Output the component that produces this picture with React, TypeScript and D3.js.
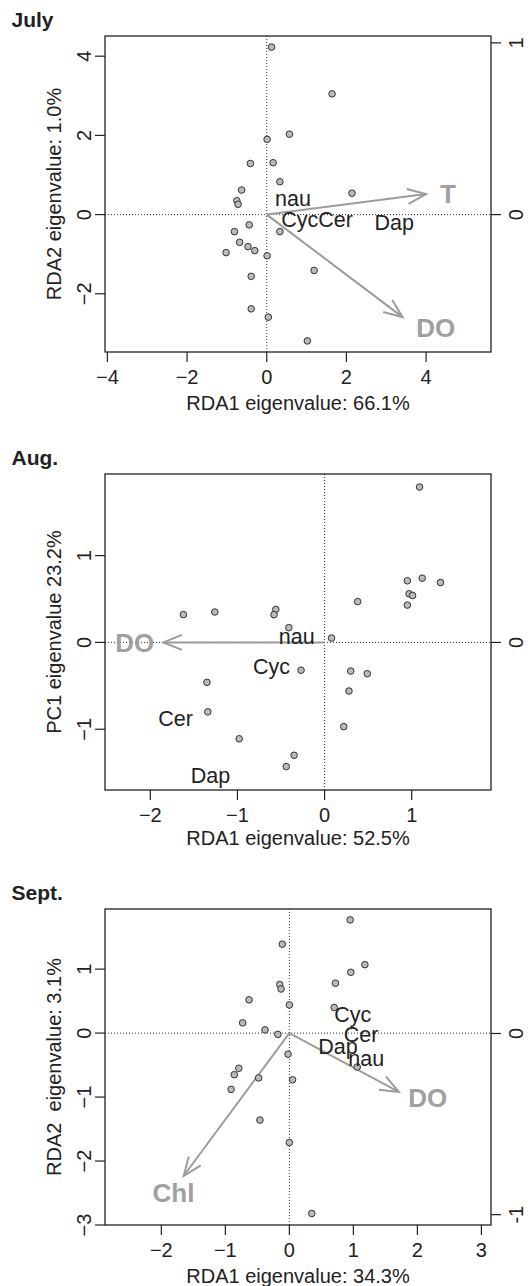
import React, { useEffect, useRef } from 'react';
import * as d3 from 'd3';

// July (RDA)
const julySiteX = [0.12, 1.64, 0.57, 0.01, -0.41, 0.16, 0.33, -0.63, 2.14, -0.75, -0.72, -0.44, -0.81, 0.33, -0.68, -0.47, -0.30, -1.02, 0.01, 1.19, -0.39, -0.39, 0.04, 1.02];
const julySiteY = [4.23, 3.05, 2.03, 1.90, 1.29, 1.31, 0.83, 0.62, 0.54, 0.35, 0.26, -0.26, -0.43, -0.43, -0.70, -0.81, -0.91, -0.96, -1.04, -1.41, -1.56, -2.38, -2.59, -3.19];
const julySpecies = ['nau', 'Cyc', 'Cer', 'Dap'];
const julySpeciesX = [0.66, 0.83, 1.73, 3.20];
const julySpeciesY = [0.40, -0.12, -0.12, -0.20];
const julyEnv = ['T', 'DO'];
const julyEnvX = [4.0, 3.41];
const julyEnvY = [0.52, -2.59];
const julyEnvLabelX = [4.55, 4.24];
const julyEnvLabelY = [0.52, -2.85];
const julyXTicks = [-4, -2, 0, 2, 4];
const julyYTicks = [-2, 0, 2, 4];
const julyRightTicks = [0, 1];

// Aug.
const augSiteX = [1.09, 0.95, 1.12, 1.33, 0.97, 1.01, 0.95, 0.38, -1.62, -1.26, -0.56, -0.58, -0.41, 0.08, -0.27, 0.30, 0.49, -1.35, 0.28, -1.34, 0.22, -0.98, -0.35, -0.44];
const augSiteY = [1.79, 0.71, 0.74, 0.69, 0.56, 0.54, 0.43, 0.47, 0.32, 0.35, 0.38, 0.32, 0.17, 0.05, -0.32, -0.33, -0.36, -0.46, -0.56, -0.80, -0.97, -1.11, -1.30, -1.43];
const augSpecies = ['nau', 'Cyc', 'Cer', 'Dap'];
const augSpeciesX = [-0.32, -0.61, -1.71, -1.31];
const augSpeciesY = [0.07, -0.28, -0.87, -1.53];
const augEnv = ['DO'];
const augEnvX = [-1.85];
const augEnvY = [0];
const augEnvLabelX = [-2.18];
const augEnvLabelY = [0];
const augXTicks = [-2, -1, 0, 1];
const augYTicks = [-1, 0, 1];
const augRightTicks = [0];

// Sept.
const septSiteX = [0.95, -0.11, 1.18, 0.96, 0.72, -0.15, -0.13, -0.63, 0.0, 0.70, -0.73, -0.38, -0.18, -0.02, -0.79, -0.86, -0.48, 0.05, 1.06, -0.91, -0.46, 0.0, 0.35];
const septSiteY = [1.77, 1.39, 1.07, 0.95, 0.78, 0.76, 0.69, 0.52, 0.44, 0.40, 0.16, 0.05, -0.02, -0.33, -0.55, -0.65, -0.70, -0.73, -0.53, -0.88, -1.36, -1.71, -2.82];
const septSpecies = ['Cyc', 'Cer', 'Dap', 'nau'];
const septSpeciesX = [0.99, 1.12, 0.76, 1.20];
const septSpeciesY = [0.30, -0.02, -0.20, -0.40];
const septEnv = ['DO', 'Chl'];
const septEnvX = [1.71, -1.65];
const septEnvY = [-0.92, -2.23];
const septEnvLabelX = [2.16, -1.81];
const septEnvLabelY = [-1.01, -2.50];
const septXTicks = [-2, -1, 0, 1, 2, 3];
const septYTicks = [-3, -2, -1, 0, 1];
const septRightTicks = [0, -1];

const panels = [
  {
    title: 'July', top: 36, xDomain: [-4.06, 5.63], yDomain: [-3.47, 4.51], rDomain: [-0.80, 1.04],
    xLabel: 'RDA1 eigenvalue: 66.1%', yLabel: 'RDA2 eigenvalue: 1.0%', xTitleGap: 58,
    siteX: julySiteX, siteY: julySiteY, species: julySpecies, spX: julySpeciesX, spY: julySpeciesY,
    env: julyEnv, envX: julyEnvX, envY: julyEnvY, envLX: julyEnvLabelX, envLY: julyEnvLabelY,
    xTicks: julyXTicks, yTicks: julyYTicks, rTicks: julyRightTicks,
  },
  {
    title: 'Aug.', top: 474, xDomain: [-2.52, 1.91], yDomain: [-1.70, 1.94], rDomain: [-0.85, 0.97],
    xLabel: 'RDA1 eigenvalue: 52.5%', yLabel: 'PC1 eigenvalue 23.2%', xTitleGap: 55,
    siteX: augSiteX, siteY: augSiteY, species: augSpecies, spX: augSpeciesX, spY: augSpeciesY,
    env: augEnv, envX: augEnvX, envY: augEnvY, envLX: augEnvLabelX, envLY: augEnvLabelY,
    xTicks: augXTicks, yTicks: augYTicks, rTicks: augRightTicks,
  },
  {
    title: 'Sept.', top: 909, xDomain: [-2.88, 3.15], yDomain: [-3.0, 1.94], rDomain: [-1.057, 0.687],
    xLabel: 'RDA1 eigenvalue: 34.3%', yLabel: 'RDA2  eigenvalue: 3.1%', xTitleGap: 58,
    siteX: septSiteX, siteY: septSiteY, species: septSpecies, spX: septSpeciesX, spY: septSpeciesY,
    env: septEnv, envX: septEnvX, envY: septEnvY, envLX: septEnvLabelX, envLY: septEnvLabelY,
    xTicks: septXTicks, yTicks: septYTicks, rTicks: septRightTicks,
  },
];

const minus = (v: number) => (v < 0 ? '\u2212' + Math.abs(v) : String(v));

export default function App() {
  const svgRef = useRef<SVGSVGElement>(null);

  useEffect(() => {
    if (!svgRef.current) return;
    const width = 528;
    const height = 1286;
    const left = 105;
    const right = 491;
    const boxH = 316;
    const font = '"Liberation Sans", Arial, Helvetica, sans-serif';
    const ink = '#222';

    const svg = d3.select(svgRef.current)
      .attr('width', width)
      .attr('height', height)
      .attr('viewBox', [0, 0, width, height].join(' '));
    svg.selectAll('*').remove();
    svg.append('rect').attr('width', width).attr('height', height).attr('fill', '#fff');

    panels.forEach((p) => {
      const top = p.top;
      const bottom = top + boxH;
      const x = d3.scaleLinear().domain(p.xDomain).range([left, right]);
      const y = d3.scaleLinear().domain(p.yDomain).range([bottom, top]);
      const yr = d3.scaleLinear().domain(p.rDomain).range([bottom, top]);
      const g = svg.append('g').attr('font-family', font).attr('fill', ink);

      // panel title
      g.append('text')
        .attr('x', 11.5).attr('y', top - 9)
        .attr('font-size', 21).attr('font-weight', 'bold')
        .text(p.title);

      // dotted zero lines
      g.append('line')
        .attr('x1', left).attr('x2', right).attr('y1', y(0)).attr('y2', y(0))
        .attr('stroke', '#333').attr('stroke-width', 1).attr('stroke-dasharray', '1,2');
      g.append('line')
        .attr('x1', x(0)).attr('x2', x(0)).attr('y1', top).attr('y2', bottom)
        .attr('stroke', '#333').attr('stroke-width', 1).attr('stroke-dasharray', '1,2');

      // box
      g.append('rect')
        .attr('x', left).attr('y', top).attr('width', right - left).attr('height', boxH)
        .attr('fill', 'none').attr('stroke', ink).attr('stroke-width', 1.3);

      // bottom axis
      p.xTicks.forEach((t) => {
        g.append('line').attr('x1', x(t)).attr('x2', x(t)).attr('y1', bottom).attr('y2', bottom + 10)
          .attr('stroke', ink).attr('stroke-width', 1.2);
        g.append('text').attr('x', x(t)).attr('y', bottom + 32)
          .attr('text-anchor', 'middle').attr('font-size', 20).text(minus(t));
      });
      g.append('text')
        .attr('x', (left + right) / 2).attr('y', bottom + p.xTitleGap)
        .attr('text-anchor', 'middle').attr('font-size', 20).text(p.xLabel)
        .style('white-space', 'pre');

      // left axis
      p.yTicks.forEach((t) => {
        g.append('line').attr('x1', left - 10).attr('x2', left).attr('y1', y(t)).attr('y2', y(t))
          .attr('stroke', ink).attr('stroke-width', 1.2);
        g.append('text')
          .attr('transform', `translate(${left - 14},${y(t)}) rotate(-90)`)
          .attr('text-anchor', 'middle').attr('font-size', 20).text(minus(t));
      });
      g.append('text')
        .attr('transform', `translate(${left - 44},${(top + bottom) / 2}) rotate(-90)`)
        .attr('text-anchor', 'middle').attr('font-size', 20).text(p.yLabel)
        .style('white-space', 'pre');

      // right axis (env scores)
      p.rTicks.forEach((t) => {
        g.append('line').attr('x1', right).attr('x2', right + 10).attr('y1', yr(t)).attr('y2', yr(t))
          .attr('stroke', ink).attr('stroke-width', 1.2);
        g.append('text')
          .attr('transform', `translate(${right + 32},${yr(t)}) rotate(-90)`)
          .attr('text-anchor', 'middle').attr('font-size', 20).text(String(t));
      });

      // env arrows
      const arrowColor = '#9c9c9c';
      p.env.forEach((name, i) => {
        const x0 = x(0), y0 = y(0);
        const x1 = x(p.envX[i]), y1 = y(p.envY[i]);
        g.append('line').attr('x1', x0).attr('y1', y0).attr('x2', x1).attr('y2', y1)
          .attr('stroke', arrowColor).attr('stroke-width', 2);
        const ang = Math.atan2(y1 - y0, x1 - x0);
        const L = 20, half = (22 * Math.PI) / 180;
        const head = [ang + Math.PI - half, ang + Math.PI + half].map((a) => [x1 + L * Math.cos(a), y1 + L * Math.sin(a)]);
        g.append('path')
          .attr('d', `M${head[0][0]},${head[0][1]}L${x1},${y1}L${head[1][0]},${head[1][1]}`)
          .attr('fill', 'none').attr('stroke', arrowColor).attr('stroke-width', 2);
      });

      // sites
      g.selectAll('circle.site')
        .data(p.siteX.map((v, i) => [v, p.siteY[i]]))
        .enter().append('circle')
        .attr('class', 'site')
        .attr('cx', (d) => x(d[0])).attr('cy', (d) => y(d[1]))
        .attr('r', 3.3)
        .attr('fill', '#bababa').attr('stroke', '#333').attr('stroke-width', 1);

      // species labels
      p.species.forEach((s, i) => {
        g.append('text')
          .attr('x', x(p.spX[i])).attr('y', y(p.spY[i])).attr('dy', '0.36em')
          .attr('text-anchor', 'middle').attr('font-size', 21.5).text(s);
      });

      // env labels
      p.env.forEach((name, i) => {
        g.append('text')
          .attr('x', x(p.envLX[i])).attr('y', y(p.envLY[i])).attr('dy', '0.36em')
          .attr('text-anchor', 'middle').attr('font-size', 26).attr('font-weight', 'bold')
          .attr('fill', '#a0a0a0').text(name);
      });
    });
  }, []);

  return (
    <div style={{ position: 'absolute', left: 0, top: 0 }}>
      <svg ref={svgRef} style={{ display: 'block' }}></svg>
    </div>
  );
}
